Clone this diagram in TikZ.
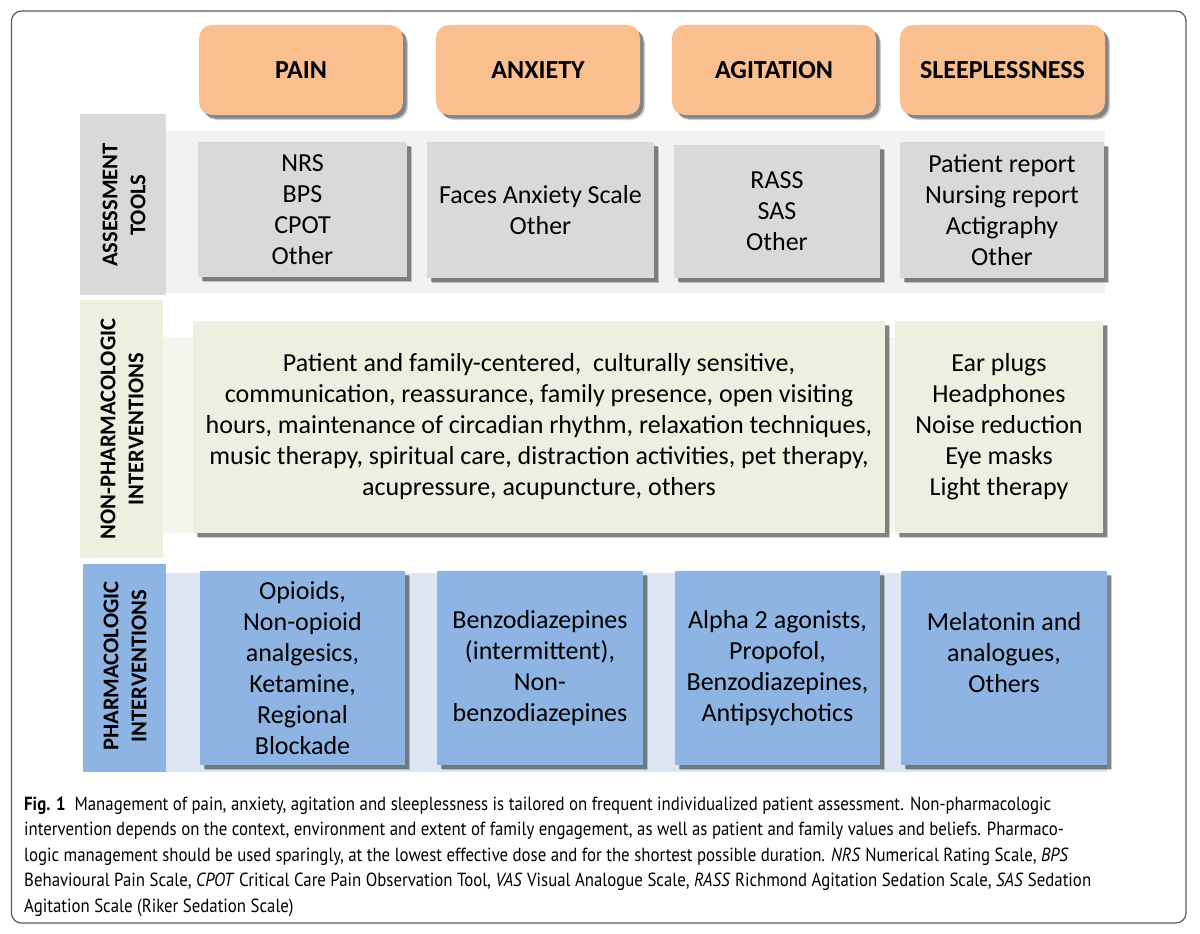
\documentclass[tikz,border=0pt]{standalone}
\usepackage{fontspec}
\setmainfont{Carlito}
\newfontfamily\capfont[FakeStretch=0.885]{PT Sans}
\usetikzlibrary{shadows}
\definecolor{hdr}{HTML}{F9BF8F}
\definecolor{asm}{HTML}{D9D9D9}
\definecolor{bandA}{HTML}{F2F2F2}
\definecolor{nph}{HTML}{EBF1DE}
\definecolor{bandB}{HTML}{F4F7EE}
\definecolor{pha}{HTML}{8EB4E3}
\definecolor{bandC}{HTML}{DCE6F2}
\definecolor{framec}{HTML}{5A5A5A}
\tikzset{
  sh/.style={general shadow={shadow xshift=5pt, shadow yshift=-5pt, fill=black, opacity=0.20},
             general shadow={shadow xshift=3.5pt, shadow yshift=-3.5pt, fill=black, opacity=0.35}},
  bodyfont/.style={font=\fontsize{26}{31}\selectfont},
  hdrbox/.style={sh, fill=hdr, rounded corners=13pt, inner sep=0pt, font=\bfseries\fontsize{26}{30}\selectfont},
  asmbox/.style={sh, fill=asm, inner sep=0pt, align=center, bodyfont},
  nphbox/.style={sh, fill=nph, inner sep=0pt, align=center, bodyfont},
  phabox/.style={sh, fill=pha, inner sep=0pt, align=center, bodyfont},
  txt/.style={inner sep=0pt, align=center, bodyfont},
  lbl/.style={rotate=90, inner sep=0pt, align=center, font=\bfseries\fontsize{22.5}{28}\selectfont},
  capline/.style={anchor=base west, inner sep=0pt, font=\capfont\fontsize{19}{25.5}\selectfont}
}
\begin{document}
\begin{tikzpicture}[x=1pt,y=-1pt]
\useasboundingbox (0,0) rectangle (1200,934);
\fill[white] (0,0) rectangle (1200,934);
\draw[framec, line width=1.2pt, rounded corners=10pt] (11.5,11) rectangle (1186,923);

% header boxes
\node[hdrbox, minimum width=204pt, minimum height=90pt] (hpain) at (301,70) {PAIN};
\node[hdrbox, minimum width=204pt, minimum height=90pt] (hanx) at (538,70) {ANXIETY};
\node[hdrbox, minimum width=204pt, minimum height=90pt] (hagi) at (774,70) {AGITATION};
\node[hdrbox, minimum width=205pt, minimum height=90pt] (hslp) at (1002.5,70) {SLEEPLESSNESS};

% row 1: assessment tools
\fill[bandA] (166,131) rectangle (1105,293);
\node[fill=asm, minimum width=86pt, minimum height=181pt, inner sep=0pt] (l1) at (123,204.5) {};
\node[lbl] (l1t) at (124,205) {ASSESSMENT\\TOOLS};
\node[asmbox, minimum width=209pt, minimum height=135pt] (a1) at (302.5,209.5) {NRS\\BPS\\CPOT\\Other};
\node[asmbox, minimum width=227pt, minimum height=136pt] (a2) at (540.5,210) {Faces Anxiety Scale\\Other};
\node[asmbox, minimum width=206pt, minimum height=133pt] (a3) at (777,211.5) {RASS\\SAS\\Other};
\node[asmbox, minimum width=204pt, minimum height=136pt] (a4) at (1002,210) {Patient report\\Nursing report\\Actigraphy\\Other};

% row 2: non-pharmacologic interventions
\fill[bandB] (163,337) rectangle (1103,533);
\node[fill=nph, minimum width=83pt, minimum height=258pt, inner sep=0pt] (l2) at (121.5,429) {};
\node[lbl] (l2t) at (122,429) {NON-PHARMACOLOGIC\\INTERVENTIONS};
\node[nphbox, minimum width=692pt, minimum height=212pt] (n1) at (539,427)
  {Patient and family-centered, \ culturally sensitive,\\communication, reassurance, family presence, open visiting\\hours, maintenance of circadian rhythm, relaxation techniques,\\music therapy, spiritual care, distraction activities, pet therapy,\\acupressure, acupuncture, others};
\node[nphbox, minimum width=208pt, minimum height=212pt] (n2) at (999,427)
  {Ear plugs\\Headphones\\Noise reduction\\Eye masks\\Light therapy};

% row 3: pharmacologic interventions
\fill[bandC] (166,573) rectangle (1107,772);
\node[fill=pha, minimum width=83pt, minimum height=208pt, inner sep=0pt] (l3) at (124.5,668) {};
\node[lbl] (l3t) at (125,666) {PHARMACOLOGIC\\INTERVENTIONS};
\node[phabox, minimum width=205pt, minimum height=194pt] (p1) at (302.5,668)
  {Opioids,\\Non-opioid\\analgesics,\\Ketamine,\\Regional\\Blockade};
\node[phabox, minimum width=206pt, minimum height=194pt] (p2) at (540,668)
  {Benzodiazepines\\(intermittent),\\Non-\\benzodiazepines};
\node[phabox, minimum width=205pt, minimum height=194pt] (p3) at (777.5,668)
  {Alpha 2 agonists,\\Propofol,\\Benzodiazepines,\\Antipsychotics};
\node[phabox, minimum width=206pt, minimum height=194pt] (p4) at (1004,668) {};
\node[txt] (p4t) at (1004,653) {Melatonin and\\analogues,\\Others};

% caption
\node[capline] (c1) at (24,810) {\textbf{Fig. 1}\ \ Management of pain, anxiety, agitation and sleeplessness is tailored on frequent individualized patient assessment. Non-pharmacologic};
\node[capline] (c2) at (24,835.5) {intervention depends on the context, environment and extent of family engagement, as well as patient and family values and beliefs. Pharmaco-};
\node[capline] (c3) at (24,861) {logic management should be used sparingly, at the lowest effective dose and for the shortest possible duration. \textit{NRS} Numerical Rating Scale, \textit{BPS}};
\node[capline] (c4) at (24,886.5) {Behavioural Pain Scale, \textit{CPOT} Critical Care Pain Observation Tool, \textit{VAS} Visual Analogue Scale, \textit{RASS} Richmond Agitation Sedation Scale, \textit{SAS} Sedation};
\node[capline] (c5) at (24,912) {Agitation Scale (Riker Sedation Scale)};
\end{tikzpicture}
\end{document}
